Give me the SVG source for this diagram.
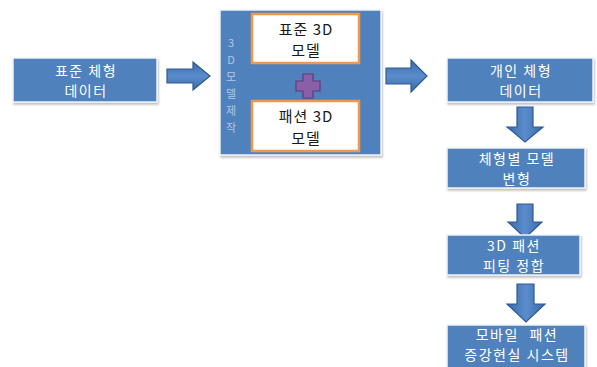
<svg xmlns="http://www.w3.org/2000/svg" width="597" height="367" viewBox="0 0 597 367">
<style>
.box{fill:#4f81bd;stroke:#eef2f8;stroke-width:1.5;filter:url(#sh)}
.inner{fill:#ffffff;stroke:#f79646;stroke-width:2.5}
.t{font-family:"Noto Sans CJK KR","Noto Sans",sans-serif;font-size:14px;letter-spacing:1.5px;fill:#ffffff;text-anchor:middle}
.tb{font-family:"Noto Sans CJK KR","Noto Sans",sans-serif;font-size:15px;letter-spacing:1px;fill:#1a1a1a;text-anchor:middle}
.v{font-family:"Noto Sans CJK KR","Noto Sans",sans-serif;font-size:11px;fill:#b3c6e2;text-anchor:middle}
.arr{stroke:#2e5a96;stroke-width:1.2;stroke-linejoin:miter}
.h{fill:url(#gh)}
.d{fill:url(#gv)}
</style>
<defs>
<filter id="sh" x="-10%" y="-10%" width="120%" height="130%">
<feDropShadow dx="1" dy="2" stdDeviation="1.2" flood-color="#000" flood-opacity="0.25"/>
</filter>
<linearGradient id="gh" x1="0" y1="0" x2="0" y2="1">
<stop offset="0" stop-color="#3a6aa8"/>
<stop offset="0.5" stop-color="#5b8dcc"/>
<stop offset="1" stop-color="#3a6aa8"/>
</linearGradient>
<linearGradient id="gv" x1="0" y1="0" x2="1" y2="0">
<stop offset="0" stop-color="#3a6aa8"/>
<stop offset="0.5" stop-color="#5b8dcc"/>
<stop offset="1" stop-color="#3a6aa8"/>
</linearGradient>
</defs>
<rect width="597" height="367" fill="#ffffff"/>

<g id="connectors">
<path class="arr h" d="M167,69 H193 V62 L210,76 L193,90 V83 H167 Z"/>
<path class="arr h" d="M386,68 H411 V60 L427,76 L411,92 V84 H386 Z"/>
<path class="arr d" d="M517,107 H533 V127 H543 L525,142 L507,127 H517 Z"/>
<path class="arr d" d="M517,204 H533 V222 H542 L525,238 L508,222 H517 Z"/>
<path class="arr d" d="M517,284 H534 V304 H545 L526,322 L507,304 H517 Z"/>
</g>

<g id="n1">
<rect class="box" x="13" y="58" width="144" height="44"/>
<text class="t" x="86" y="76">표준 체형</text>
<text class="t" x="86" y="96">데이터</text>
</g>

<g id="n2">
<rect class="box" x="220" y="10" width="161" height="145"/>
<text class="v" x="231" y="47">3</text>
<text class="v" x="231" y="64">D</text>
<text class="v" x="231" y="81">모</text>
<text class="v" x="231" y="98">델</text>
<text class="v" x="231" y="115">제</text>
<text class="v" x="231" y="132">작</text>
<g id="n2a">
<rect class="inner" x="252" y="14" width="107" height="49"/>
<text class="tb" x="306" y="35">표준 3D</text>
<text class="tb" x="306" y="56">모델</text>
</g>
<path id="plus" d="M303,74 H313 V81 H320 V91 H313 V98 H303 V91 H296 V81 H303 Z" fill="#8a5fa8" stroke="#5e3b7a" stroke-width="1.2"/>
<g id="n2b">
<rect class="inner" x="252" y="101" width="107" height="50"/>
<text class="tb" x="306" y="122">패션 3D</text>
<text class="tb" x="306" y="144">모델</text>
</g>
</g>

<g id="n3">
<rect class="box" x="447" y="58" width="146" height="44"/>
<text class="t" x="521" y="76">개인 체형</text>
<text class="t" x="521" y="96">데이터</text>
</g>

<g id="n4">
<rect class="box" x="447" y="148" width="138" height="40"/>
<text class="t" x="517" y="164">체형별 모델</text>
<text class="t" x="517" y="184">변형</text>
</g>

<g id="n5">
<rect class="box" x="447" y="235" width="133" height="40"/>
<text class="t" x="514" y="251">3D 패션</text>
<text class="t" x="514" y="271">피팅 정합</text>
</g>

<g id="n6">
<rect class="box" x="447" y="325" width="138" height="45"/>
<text class="t" x="517" y="340" style="word-spacing:6px">모바일 패션</text>
<text class="t" x="517" y="360">증강현실 시스템</text>
</g>
</svg>
